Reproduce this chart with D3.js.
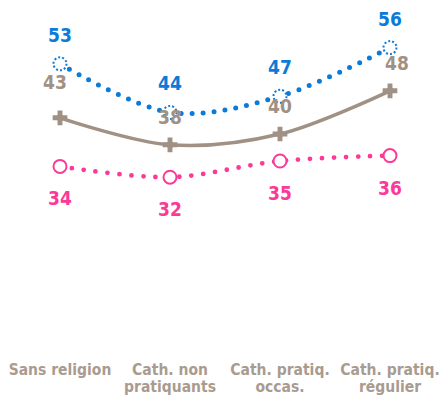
<!DOCTYPE html>
<html>
<head>
<meta charset="utf-8">
<script src="https://cdn.jsdelivr.net/npm/d3@7"></script>
<style>
  body { margin: 0; background: #fff; }
  text { font-family: "DejaVu Sans", sans-serif; font-weight: bold; font-stretch: condensed; }
</style>
</head>
<body>
<div id="chart"></div>
<script>
// Data
var categories = ["Sans religion", "Cath. non pratiquants", "Cath. pratiq. occas.", "Cath. pratiq. régulier"];
var categoryLines = [["Sans religion"], ["Cath. non", "pratiquants"], ["Cath. pratiq.", "occas."], ["Cath. pratiq.", "régulier"]];
var blueValues = [53, 44, 47, 56];
var grayValues = [43, 38, 40, 48];
var pinkValues = [34, 32, 35, 36];

var svgWidth = 442;
var svgHeight = 400;

var blue = "#0a7bd8";
var gray = "#a09184";
var pink = "#fb3a98";

var svg = d3.select("#chart")
  .append("svg")
  .attr("width", svgWidth)
  .attr("height", svgHeight);

// Scales
var xScale = d3.scalePoint()
  .domain(categories)
  .range([60, 390]);

var yScale = d3.scaleLinear()
  .domain([0, 60])
  .range([350, 26]);

var line = d3.line()
  .x((d, i) => xScale(categories[i]))
  .y(d => yScale(d))
  .curve(d3.curveCatmullRom.alpha(0.5));

// Lines
svg.append("path")
  .attr("d", line(blueValues))
  .attr("fill", "none")
  .attr("stroke", blue)
  .attr("stroke-width", 5)
  .attr("stroke-linecap", "round")
  .attr("stroke-dasharray", "0 11");

svg.append("path")
  .attr("d", line(pinkValues))
  .attr("fill", "none")
  .attr("stroke", pink)
  .attr("stroke-width", 4.8)
  .attr("stroke-linecap", "round")
  .attr("stroke-dasharray", "0 12");

svg.append("path")
  .attr("d", line(grayValues))
  .attr("fill", "none")
  .attr("stroke", gray)
  .attr("stroke-width", 3.5);

// Markers
svg.selectAll(".blueMarker")
  .data(blueValues)
  .enter()
  .append("circle")
  .attr("cx", (d, i) => xScale(categories[i]))
  .attr("cy", d => yScale(d))
  .attr("r", 6.5)
  .attr("fill", "#fff")
  .attr("stroke", blue)
  .attr("stroke-width", 2)
  .attr("stroke-dasharray", "2 2");

svg.selectAll(".pinkMarker")
  .data(pinkValues)
  .enter()
  .append("circle")
  .attr("cx", (d, i) => xScale(categories[i]))
  .attr("cy", d => yScale(d))
  .attr("r", 6.5)
  .attr("fill", "#fff")
  .attr("stroke", pink)
  .attr("stroke-width", 2);

var grayMarkers = svg.selectAll(".grayMarker")
  .data(grayValues)
  .enter()
  .append("g")
  .attr("transform", (d, i) => `translate(${xScale(categories[i])}, ${yScale(d)})`);

grayMarkers.append("path")
  .attr("d", d3.symbol().type(d3.symbolCross).size(120))
  .attr("fill", gray);

grayMarkers.append("path")
  .attr("d", d3.symbol().type(d3.symbolSquare).size(50))
  .attr("transform", "rotate(45)")
  .attr("fill", gray);

// Value labels
svg.selectAll(".grayLabel")
  .data(grayValues)
  .enter()
  .append("text")
  .attr("x", (d, i) => xScale(categories[i]) + (i === 0 ? -5 : i === 3 ? 7 : 0))
  .attr("y", (d, i) => yScale(d) - (i === 0 ? 29 : 21))
  .attr("text-anchor", "middle")
  .attr("font-size", 19)
  .attr("fill", gray)
  .text(d => d);

svg.selectAll(".blueLabel")
  .data(blueValues)
  .enter()
  .append("text")
  .attr("x", (d, i) => xScale(categories[i]))
  .attr("y", d => yScale(d) - 22)
  .attr("text-anchor", "middle")
  .attr("font-size", 19)
  .attr("fill", blue)
  .text(d => d);

svg.selectAll(".pinkLabel")
  .data(pinkValues)
  .enter()
  .append("text")
  .attr("x", (d, i) => xScale(categories[i]))
  .attr("y", d => yScale(d) + 39)
  .attr("text-anchor", "middle")
  .attr("font-size", 19)
  .attr("fill", pink)
  .text(d => d);

// Category labels
var catGroup = svg.selectAll(".catLabel")
  .data(categoryLines)
  .enter()
  .append("text")
  .attr("text-anchor", "middle")
  .attr("font-size", 15.5)
  .attr("fill", "#a99b8f");

catGroup.selectAll("tspan")
  .data((d, i) => d.map(t => ({ t: t, i: i })))
  .enter()
  .append("tspan")
  .attr("x", d => xScale(categories[d.i]))
  .attr("y", (d, j) => 375 + j * 16.5)
  .text(d => d.t);
</script>
</body>
</html>
